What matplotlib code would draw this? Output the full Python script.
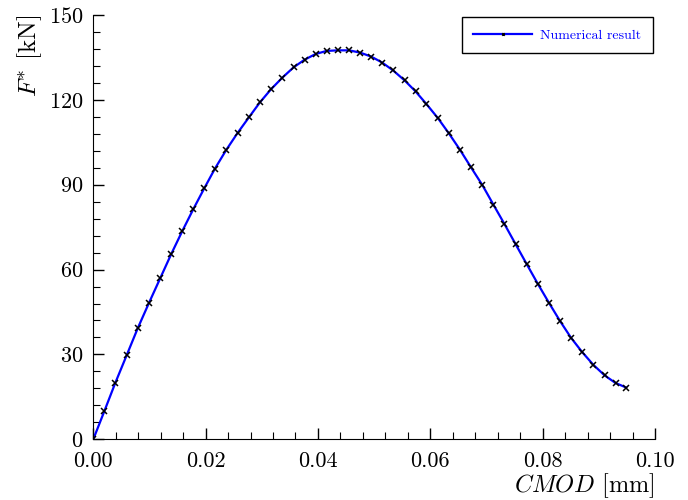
import matplotlib
matplotlib.use("Agg")
import matplotlib.pyplot as plt
from matplotlib.ticker import MultipleLocator

plt.rcParams['font.family'] = 'serif'
plt.rcParams['font.serif'] = ['cmr10']
plt.rcParams['mathtext.fontset'] = 'cm'
plt.rcParams['axes.formatter.use_mathtext'] = True

# CMOD [mm] vs F* [kN]
cmod = [0.0, 0.00196, 0.00391, 0.00594, 0.0079, 0.00991, 0.01193, 0.01388,
        0.01584, 0.01779, 0.01975, 0.02166, 0.02367, 0.02569, 0.0277, 0.02966,
        0.03162, 0.03363, 0.03566, 0.03762, 0.03957, 0.04153, 0.04354, 0.04555,
        0.04751, 0.04947, 0.05142, 0.05338, 0.05541, 0.05737, 0.05932, 0.06133,
        0.06329, 0.0653, 0.06726, 0.06929, 0.07125, 0.0732, 0.07521, 0.07717,
        0.07913, 0.08114, 0.0831, 0.08505, 0.08701, 0.08904, 0.09103, 0.09298,
        0.09488]
force = [0.0, 9.9, 19.9, 29.7, 39.2, 48.2, 57.0, 65.5, 73.6, 81.3, 88.7, 95.7,
         102.3, 108.3, 113.8, 119.1, 123.7, 127.8, 131.5, 134.2, 136.2, 137.3,
         137.5, 137.5, 136.7, 135.3, 133.2, 130.4, 126.9, 123.0, 118.5, 113.6,
         108.2, 102.3, 96.1, 89.8, 82.9, 76.1, 68.9, 61.9, 55.0, 48.2, 41.8,
         35.9, 30.9, 26.3, 22.6, 19.9, 18.3]

fig = plt.figure(figsize=(6.88, 5.0), dpi=100)
ax = fig.add_axes([0.1356, 0.1214, 0.8164, 0.8486])

ax.plot(cmod, force, color='blue', lw=1.6, marker='x', ms=4.5,
        mec='black', mew=1.1, label='Numerical result')

ax.set_xlim(0, 0.10)
ax.set_ylim(0, 150)
ax.xaxis.set_major_locator(MultipleLocator(0.02))
ax.xaxis.set_minor_locator(MultipleLocator(0.004))
ax.yaxis.set_major_locator(MultipleLocator(30))
ax.yaxis.set_minor_locator(MultipleLocator(6))
ax.tick_params(which='both', direction='in', top=False, right=False, labelsize=16)
ax.tick_params(which='major', length=8, width=1)
ax.tick_params(which='minor', length=5, width=0.8)
ax.tick_params(axis='x', which='major', pad=9)
ax.tick_params(axis='y', which='major', pad=7)
ax.xaxis.set_major_formatter(matplotlib.ticker.FormatStrFormatter('%.2f'))
ax.spines['top'].set_visible(False)
ax.spines['right'].set_visible(False)

ax.set_xlabel('$CMOD$ [mm]', fontsize=17.5, loc='right', labelpad=0)
ax.set_ylabel('$F^{*}$ [kN]', fontsize=18, loc='top', labelpad=4)

leg = ax.legend(loc='upper right', fontsize=10, handlelength=4.2, numpoints=1,
                markerscale=0.4, fancybox=False, edgecolor='black',
                framealpha=1, borderpad=0.85, handletextpad=0.6,
                bbox_to_anchor=(1.0, 1.0), borderaxespad=0.15)
leg.get_frame().set_linewidth(1.0)
for t in leg.get_texts():
    t.set_color('blue')

fig.savefig('out.png', dpi=100)
